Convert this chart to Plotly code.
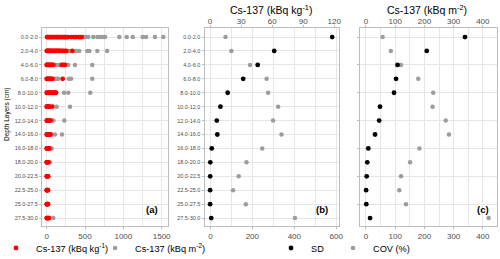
import plotly.graph_objects as go

FONT = "Liberation Sans, Arial, sans-serif"

layers = ["0.0-2.0", "2.0-4.0", "4.0-6.0", "6.0-8.0", "8.0-10.0", "10.0-12.0", "12.0-14.0",
          "14.0-16.0", "16.0-18.0", "18.0-20.0", "20.0-22.5", "22.5-25.0", "25.0-27.5", "27.5-30.0"]

# Panel (a): individual sample values per layer
cs_kg = [
    [4, 13, 21, 33, 47, 58, 72, 86, 98, 113, 127, 141, 152, 168, 181, 196, 209, 224, 238, 251, 266, 282, 326, 356, 382, 413, 435, 457],
    [1, 8, 17, 27, 38, 49, 61, 73, 86, 97, 110, 124, 137, 150, 163, 171, 193, 212, 236, 257, 335],
    [0, 6, 14, 25, 37, 49, 61, 74, 87, 196, 214, 239],
    [0, 7, 16, 27, 39, 52, 64, 78, 209],
    [0, 8, 17, 29, 42, 55, 69, 84, 98, 110, 122],
    [0, 5, 12, 21, 29, 35, 74],
    [0, 6, 13, 22, 31, 41, 52],
    [0, 6, 14, 23, 33, 43, 52],
    [0, 5, 12, 20, 28, 35],
    [0, 4, 9, 15, 22],
    [0, 4, 9, 14, 20],
    [0, 4, 8, 13, 18],
    [0, 4, 8, 13, 18],
    [0, 5, 11, 18, 24, 30],
]
cs_m2 = [
    [60, 140, 230, 310, 390, 478, 513, 543, 608, 661, 696, 731, 761, 948, 1044, 1123, 1253, 1296, 1413, 1522],
    [30, 120, 213, 282, 313, 382, 424, 530, 556, 661, 788],
    [20, 60, 121, 148, 174, 282, 369, 595],
    [15, 50, 112, 132, 152, 291, 318, 595],
    [10, 45, 226, 282, 569],
    [8, 30, 130, 304],
    [6, 25, 87, 230],
    [5, 22, 108, 200],
    [4, 18, 65],
    [3, 12, 43],
    [2, 10],
    [2, 8],
    [2, 9],
    [3, 14, 87],
]

# Panel (b): kBq kg-1 statistics
sd_kg = [118, 62, 46, 32, 17, 10, 6.5, 7, 1.6, 0.2, 0.1, 0, 0, 1.1]
cov_kg = [72, 100, 189, 268, 275, 323, 299, 339, 247, 172, 135, 108, 169, 403]

# Panel (c): kBq m-2 statistics
sd_m2 = [339, 208, 108, 103, 96, 48, 45, 31, 8, 4.5, 2.4, 0.5, 1, 14]
cov_m2 = [57, 85, 120, 179, 230, 228, 273, 284, 183, 151, 120, 114, 137, 420]

W, H = 500, 259
RED, GREY, BLACK = "#ff0000", "#9c9c9c", "#000000"
GRID, BORDER, TICKC = "#e6e6e6", "#bdbdbd", "#4d4d4d"


def px_x(a, b):
    return [a / W, b / W]


ydom = [1 - 226 / H, 1 - 28 / H]

fig = go.Figure()

# ---- panel (a)
gx, gy, rx, ry = [], [], [], []
for lay, vals in zip(layers, cs_m2):
    gx += vals
    gy += [lay] * len(vals)
for lay, vals in zip(layers, cs_kg):
    rx += vals
    ry += [lay] * len(vals)

fig.add_trace(go.Scatter(x=gx, y=gy, mode="markers", name="Cs-137 (kBq m<sup>-2</sup>)",
                         marker=dict(color=GREY, size=4.5), xaxis="x", yaxis="y",
                         legend="legend3"))
fig.add_trace(go.Scatter(x=rx, y=ry, mode="markers", name="Cs-137 (kBq kg<sup>-1</sup>)",
                         marker=dict(color=RED, size=4.8), xaxis="x", yaxis="y",
                         legend="legend"))

# ---- panel (b)
fig.add_trace(go.Scatter(x=cov_kg, y=layers, mode="markers", name="COV (%)",
                         marker=dict(color=GREY, size=4.5), xaxis="x2", yaxis="y2",
                         legend="legend4"))
fig.add_trace(go.Scatter(x=sd_kg, y=layers, mode="markers", name="SD",
                         marker=dict(color=BLACK, size=4.8), xaxis="x3", yaxis="y2",
                         legend="legend2"))

# ---- panel (c)
fig.add_trace(go.Scatter(x=cov_m2, y=layers, mode="markers", showlegend=False,
                         marker=dict(color=GREY, size=4.5), xaxis="x4", yaxis="y3"))
fig.add_trace(go.Scatter(x=sd_m2, y=layers, mode="markers", showlegend=False,
                         marker=dict(color=BLACK, size=4.8), xaxis="x5", yaxis="y3"))

tickfont = dict(family=FONT, size=8, color=TICKC)
ytickfont = dict(family=FONT, size=5.5, color=TICKC)


def xbase(dom, rng, tv, minor_dt, anchor):
    return dict(domain=dom, range=rng, tickvals=tv, anchor=anchor, automargin=False,
                showgrid=True, gridcolor=GRID, gridwidth=1,
                minor=dict(dtick=minor_dt, tick0=0, showgrid=True, gridcolor=GRID, gridwidth=0.8),
                showline=True, mirror=True, linecolor=BORDER, linewidth=1,
                ticks="outside", ticklen=2, tickcolor=BORDER, tickfont=tickfont,
                zeroline=False, fixedrange=True)


def xtop(over, rng, tv, anchor):
    return dict(overlaying=over, side="top", range=rng, tickvals=tv, anchor=anchor,
                automargin=False, showgrid=False, showline=False, ticks="outside", ticklen=2,
                tickcolor=BORDER, tickfont=tickfont, zeroline=False, ticklabelstandoff=-2)


def ybase(anchor, labels=True):
    return dict(domain=ydom, anchor=anchor, type="category", categoryarray=layers,
                categoryorder="array", range=[13.57, -0.65], automargin=False,
                showgrid=True, gridcolor=GRID, showline=True, mirror=True,
                linecolor=BORDER, linewidth=1, ticks="outside", ticklen=2,
                tickcolor=BORDER, tickfont=ytickfont, showticklabels=labels)


def leg(xpx):
    return dict(orientation="h", x=xpx / W, y=1 - 248 / H, xanchor="left", yanchor="middle",
                font=dict(family=FONT, size=9.2, color="#000000"), bgcolor="rgba(0,0,0,0)",
                itemwidth=30, tracegroupgap=0)


fig.update_layout(
    width=W, height=H,
    margin=dict(l=0, r=0, t=0, b=0, autoexpand=False),
    paper_bgcolor="white", plot_bgcolor="white",
    font=dict(family=FONT, color="#000000"),
    xaxis=xbase(px_x(42, 168), [-61, 1583], [0, 500, 1000, 1500], 250, "y"),
    yaxis=ybase("x"),
    xaxis2=xbase(px_x(204.5, 339), [-28, 613], [0, 200, 400, 600], 100, "y2"),
    xaxis3=xtop("x2", [-5.4, 124.6], [0, 30, 60, 90, 120], "y2"),
    yaxis2=ybase("x2"),
    xaxis4=xbase(px_x(360, 497), [-20.5, 448.6], [0, 100, 200, 300, 400], 50, "y3"),
    xaxis5=xtop("x4", [-20.5, 448.6], [0, 100, 200, 300, 400], "y3"),
    yaxis3=ybase("x4", labels=False),
    legend=leg(-4),
    legend3=leg(95),
    legend2=leg(271),
    legend4=leg(333),
    showlegend=True,
)

ann = [
    dict(text="Depth Layers (cm)", x=7 / W, y=1 - 115 / H, textangle=-90,
         font=dict(size=6.5)),
    dict(text="Cs-137 (kBq kg<sup>-1</sup>)", x=271 / W, y=1 - 9 / H, font=dict(size=10.5)),
    dict(text="Cs-137 (kBq m<sup>-2</sup>)", x=427 / W, y=1 - 9 / H, font=dict(size=10.5)),
    dict(text="<b>(a)</b>", x=152 / W, y=1 - 209 / H, font=dict(size=9.5)),
    dict(text="<b>(b)</b>", x=322 / W, y=1 - 209 / H, font=dict(size=9.5)),
    dict(text="<b>(c)</b>", x=483 / W, y=1 - 209 / H, font=dict(size=9.5)),
]
for a in ann:
    a.update(xref="paper", yref="paper", showarrow=False, xanchor="center", yanchor="middle")
    a["font"].update(family=FONT, color="#000000")
fig.update_layout(annotations=ann)

fig.write_html("out.html", config={"displayModeBar": False},
               post_script="document.body.style.margin='0';document.body.style.overflow='hidden';")
